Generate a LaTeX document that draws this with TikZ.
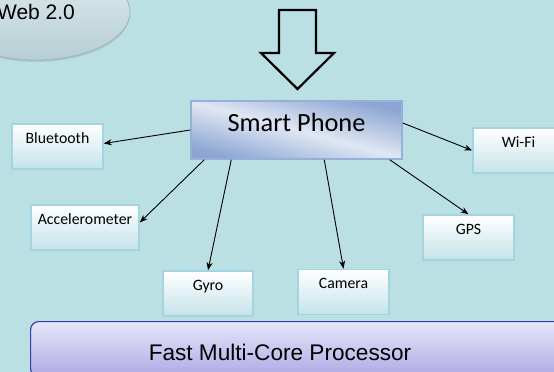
\documentclass[tikz,border=0pt]{standalone}
\usepackage{fontspec}
\setmainfont{Carlito}
\newfontfamily\arialfont{Liberation Sans}
\usetikzlibrary{calc,arrows.meta,shapes.geometric,shadows}
\definecolor{bgteal}{RGB}{187,224,227}
\definecolor{boxedge}{RGB}{163,212,224}
\definecolor{boxlow}{RGB}{196,227,234}
\definecolor{phonedark}{RGB}{140,165,211}
\definecolor{phonelight}{RGB}{224,231,243}
\definecolor{phoneedge}{RGB}{150,176,216}
\definecolor{cpuedge}{RGB}{60,60,170}
\definecolor{cputop}{RGB}{230,230,248}
\definecolor{cpulow}{RGB}{174,170,230}
\definecolor{webtop}{RGB}{226,237,240}
\definecolor{weblow}{RGB}{182,206,212}
\definecolor{webedge}{RGB}{160,180,186}
\begin{document}
\begin{tikzpicture}[x=1pt,y=-1pt,
  sensor/.style={draw=boxedge, line width=1.5pt, top color=white, bottom color=boxlow,
    inner sep=0pt, text height=19pt, text depth=26pt, font=\fontsize{15.8}{18}\selectfont},
  link/.style={-{Stealth[length=8pt,width=6pt]}, line width=0.9pt}]
\clip (0,0) rectangle (554,372);
\fill [bgteal] (0,0) rectangle (554,372);
% cloud label
\node [ellipse, draw=webedge, line width=0.8pt, top color=webtop, bottom color=weblow,
  drop shadow={opacity=0.25, shadow xshift=0pt, shadow yshift=-2pt},
  minimum width=188pt, minimum height=96pt, inner sep=0pt,
  font=\arialfont\fontsize{21}{24}\selectfont] (web) at (36,12) {Web 2.0};
% hollow arrow
\draw [line width=2.2pt] (279,10) -- (316,10) -- (316,53) -- (334,53) -- (297.5,89)
  -- (261,53) -- (279,53) -- cycle;
% phone
\node [draw=phoneedge, line width=1.5pt, top color=phonedark, bottom color=phonedark,
  middle color=phonelight, shading angle=-15, minimum width=211pt, inner sep=0pt,
  text height=30pt, text depth=28pt, font=\fontsize{26.3}{30}\selectfont] (phone) at (296.5,130) {Smart Phone};
% sensors
\node [sensor, minimum width=91pt] (bt) at (57.5,146.5) {Bluetooth};
\node [sensor, minimum width=108pt] (acc) at (85,227.5) {Accelerometer};
\node [sensor, minimum width=90pt] (gyro) at (208,293.5) {Gyro};
\node [sensor, minimum width=91pt] (cam) at (343.5,292) {Camera};
\node [sensor, minimum width=91pt] (gps) at (468.5,237.5) {GPS};
\node [sensor, minimum width=91pt] (wifi) at (518.5,150.5) {Wi-Fi};
% processor
\node [draw=cpuedge, line width=1.2pt, rounded corners=8pt, top color=cputop, bottom color=cpulow,
  minimum width=560pt, minimum height=55pt, anchor=north west] (cpu) at (30,321) {};
\node [font=\arialfont\fontsize{22.6}{26}\selectfont] (cpulabel) at (280,352) {Fast Multi-Core Processor};
% links
\draw [link] (phone.west) -- ($(bt.east)+(0,-3)$);
\draw [link] ($(phone.south west)+(14,0)$) -- ($(acc.east)+(0,-5)$);
\draw [link] ($(phone.south west)+(41,0)$) -- (gyro.north);
\draw [link] ($(phone.south west)+(134,0)$) -- (cam.north);
\draw [link] ($(phone.south east)+(-13,0)$) -- (gps.north);
\draw [link] ($(phone.east)+(0,-7)$) -- (wifi.west);
\end{tikzpicture}
\end{document}
